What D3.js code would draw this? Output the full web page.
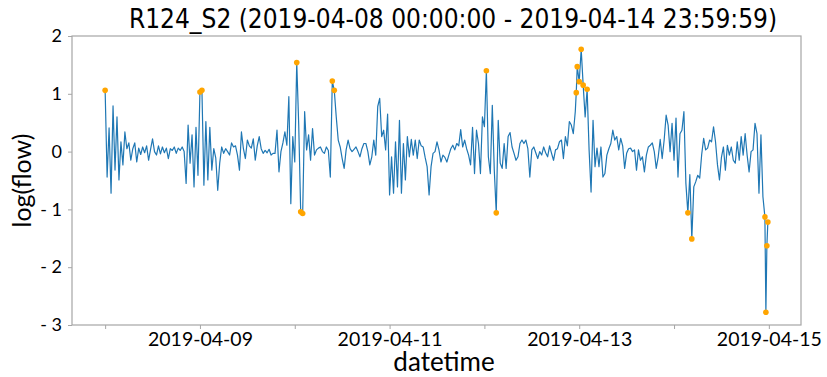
<!DOCTYPE html>
<html>
<head>
<meta charset="utf-8">
<script src="https://cdn.jsdelivr.net/npm/d3@7"></script>
<style>
  body { margin: 0; background: #fff; }
  svg { display: block; }
</style>
</head>
<body>
<div id="chart"></div>
<script>

// chart values (30 minute steps, one array per day)
const title = "R124_S2 (2019-04-08 00:00:00 - 2019-04-14 23:59:59)"
const startTime = "2019-04-08 00:00"
const stepMinutes = 30

const day1 = [1.06, -0.44, 0.41, -0.72, 0.79, -0.32, 0.60, -0.49, 0.17, -0.23,
  0.34, 0.05, 0.15, -0.15, 0.05, 0.15, -0.18, 0.06, -0.05, 0.08,
  -0.02, 0.10, -0.15, 0.04, 0.22, 0.00, -0.06, 0.10, -0.04, 0.08,
  -0.02, 0.06, -0.12, 0.05, 0.02, 0.08, -0.03, 0.06, 0.02, 0.08,
  0.00, -0.55, 0.46, -0.20, 0.29, -0.61, 0.42, -0.41]
const day2 = [1.03, 1.06, -0.58, 0.52, -0.49, 0.42, -0.32, 0.05, -0.11, -0.67,
  -0.20, 0.08, -0.03, 0.05, 0.00, -0.06, 0.15, 0.08, 0.10, -0.06,
  -0.32, 0.34, 0.05, -0.12, 0.20, 0.10, 0.06, 0.22, -0.15, 0.10,
  0.26, 0.05, -0.03, 0.02, -0.02, 0.04, -0.06, -0.03, -0.03, 0.37,
  -0.35, 0.00, 0.15, 0.34, 0.11, 0.95, -0.90, 0.26]
const day3 = [-0.18, 1.54, 0.46, -1.04, -1.07, 0.69, 0.03, 0.29, -0.15, 0.40,
  -0.06, 0.03, 0.06, 0.08, 0.00, -0.03, 0.08, 0.02, -0.44, 1.22,
  1.06, 0.60, 0.20, 0.08, -0.12, -0.29, 0.03, 0.20, 0.05, 0.00,
  0.04, 0.08, 0.00, -0.09, 0.05, 0.14, 0.14, 0.00, -0.23, -0.09,
  0.20, -0.06, 0.78, 0.92, 0.26, 0.37, 0.03, 0.65]
const day4 = [-0.75, -0.09, -0.72, 0.17, -0.61, 0.54, -0.72, 0.14, -0.49, 0.26,
  -0.09, 0.21, -0.06, 0.20, -0.12, 0.20, 0.10, 0.08, -0.10, -0.26,
  -0.75, -0.26, -0.03, 0.00, 0.17, 0.03, -0.18, -0.06, -0.10, -0.18,
  -0.06, 0.05, 0.11, 0.03, 0.14, 0.10, 0.38, 0.08, 0.20, 0.05,
  -0.06, -0.23, 0.42, -0.38, 0.37, 0.14, -0.38, 0.60]
const day5 = [0.43, 1.40, -0.09, -0.38, 0.80, -0.32, -1.06, 0.54, -0.20, -0.29,
  0.14, -0.29, 0.26, 0.33, 0.08, -0.03, -0.15, -0.09, 0.14, 0.20,
  0.14, 0.20, 0.05, -0.44, 0.03, 0.08, -0.02, -0.12, 0.00, -0.06,
  0.08, -0.02, -0.09, 0.10, -0.03, -0.15, 0.03, 0.05, 0.17, 0.20,
  -0.12, 0.26, 0.10, 0.52, 0.46, 0.31, 0.69, 1.47]
const day6 = [1.21, 1.77, 1.15, 0.60, 1.08, 0.03, -0.70, 0.54, -0.26, 0.06,
  -0.26, 0.08, -0.44, -0.38, -0.06, 0.05, 0.14, 0.37, 0.20, 0.26,
  0.03, 0.23, 0.10, -0.29, -0.03, 0.05, 0.06, 0.00, 0.03, -0.32,
  0.03, -0.15, -0.09, -0.35, -0.06, 0.08, 0.11, 0.15, 0.00, -0.29,
  -0.09, 0.21, -0.12, 0.20, 0.63, 0.46, 0.00, 0.49]
const day7 = [-0.15, 0.58, -0.44, 0.31, 0.37, 0.69, -0.55, -1.06, -0.40, -1.51,
  -0.61, -0.52, -0.41, -0.46, -0.05, 0.23, 0.03, 0.06, 0.20, 0.17,
  0.43, 0.17, -0.23, -0.49, -0.10, 0.08, -0.32, 0.11, -0.06, 0.08,
  -0.15, -0.20, 0.17, -0.15, 0.26, -0.06, 0.31, -0.06, -0.35, 0.00,
  0.03, 0.49, 0.31, -0.72, 0.29, -0.78, -1.13, -1.63]

// flagged points (orange); some fall between the 30 minute steps
const anomalies = [
  ["2019-04-08 00:00", 1.06],
  ["2019-04-09 00:00", 1.03],
  ["2019-04-09 00:30", 1.06],
  ["2019-04-10 00:30", 1.54],
  ["2019-04-10 01:30", -1.04],
  ["2019-04-10 02:00", -1.07],
  ["2019-04-10 09:30", 1.22],
  ["2019-04-10 10:00", 1.06],
  ["2019-04-12 00:30", 1.40],
  ["2019-04-12 03:00", -1.06],
  ["2019-04-12 23:15", 1.02],
  ["2019-04-12 23:30", 1.47],
  ["2019-04-13 00:00", 1.21],
  ["2019-04-13 00:30", 1.77],
  ["2019-04-13 01:00", 1.15],
  ["2019-04-13 02:00", 1.08],
  ["2019-04-14 03:30", -1.06],
  ["2019-04-14 04:30", -1.51],
  ["2019-04-14 23:00", -1.13],
  ["2019-04-14 23:15", -2.78],
  ["2019-04-14 23:30", -1.63],
  ["2019-04-14 23:45", -1.22]
]

const yTicks = [2, 1, 0, -1, -2, -3]
const xTickDays = ["2019-04-08", "2019-04-09", "2019-04-10", "2019-04-11",
  "2019-04-12", "2019-04-13", "2019-04-14", "2019-04-15"]
const xLabelDays = ["2019-04-09", "2019-04-11", "2019-04-13", "2019-04-15"]

const parseTime = d3.timeParse("%Y-%m-%d %H:%M")
const parseDay = d3.timeParse("%Y-%m-%d")
const fmtDay = d3.timeFormat("%Y-%m-%d")

// build the series: regular steps, then the flagged points merged in by time
const t0 = parseTime(startTime)
const byTime = new Map()
;[day1, day2, day3, day4, day5, day6, day7].flat().forEach((v, i) => {
  const t = d3.timeMinute.offset(t0, i * stepMinutes)
  byTime.set(+t, { time: t, value: v })
})
const flagged = anomalies.map(([s, v]) => ({ time: parseTime(s), value: v }))
flagged.forEach(d => byTime.set(+d.time, d))
const series = Array.from(byTime.values()).sort((a, b) => a.time - b.time)

const width = 827
const height = 377
const margin = ({ top: 36, right: 26, bottom: 52, left: 72 })

const [tMin, tMax] = d3.extent(series, d => d.time)
const pad = (tMax - tMin) * 0.05

const x = d3.scaleTime()
  .domain([new Date(+tMin - pad), new Date(+tMax + pad)])
  .range([margin.left, width - margin.right])

const y = d3.scaleLinear()
  .domain([-3, 2])
  .range([height - margin.bottom, margin.top])

const svg = d3.select("#chart")
  .append("svg")
  .attr("width", width)
  .attr("height", height)
  .attr("viewBox", [0, 0, width, height])

const frameColor = "#a6a6a6"
const labelFont = "Lato, 'Open Sans', sans-serif"

// frame
svg.append("rect")
  .attr("x", margin.left)
  .attr("y", margin.top)
  .attr("width", width - margin.left - margin.right)
  .attr("height", height - margin.top - margin.bottom)
  .attr("fill", "none")
  .attr("stroke", frameColor)
  .attr("stroke-width", 1.2)

// x axis
svg.append("g")
  .attr("transform", `translate(0,${height - margin.bottom})`)
  .call(d3.axisBottom(x)
    .tickValues(xTickDays.map(parseDay))
    .tickSize(4)
    .tickPadding(3)
    .tickFormat(d => xLabelDays.includes(fmtDay(d)) ? fmtDay(d) : ""))
  .call(g => g.select(".domain").remove())
  .call(g => g.selectAll("line").attr("stroke", frameColor))
  .call(g => g.selectAll("text")
    .attr("fill", "#000")
    .attr("font-family", labelFont)
    .attr("font-size", 19.5))

// y axis
svg.append("g")
  .attr("transform", `translate(${margin.left},0)`)
  .call(d3.axisLeft(y)
    .tickValues(yTicks)
    .tickSize(4)
    .tickPadding(6)
    .tickFormat(d => d < 0 ? "- " + Math.abs(d) : String(d)))
  .call(g => g.select(".domain").remove())
  .call(g => g.selectAll("line").attr("stroke", frameColor))
  .call(g => g.selectAll("text")
    .attr("fill", "#000")
    .attr("font-family", labelFont)
    .attr("font-size", 18))

// the series
const line = d3.line()
  .x(d => x(d.time))
  .y(d => y(d.value))

svg.append("path")
  .datum(series)
  .attr("fill", "none")
  .attr("stroke", "#1f77b4")
  .attr("stroke-width", 1.2)
  .attr("stroke-linejoin", "round")
  .attr("d", line)

svg.append("g")
  .selectAll("circle")
  .data(flagged)
  .join("circle")
  .attr("cx", d => x(d.time))
  .attr("cy", d => y(d.value))
  .attr("r", 2.8)
  .attr("fill", "#ffa500")

// labels
svg.append("text")
  .attr("x", 453)
  .attr("y", 28)
  .attr("text-anchor", "middle")
  .attr("font-family", "'DejaVu Sans Condensed', 'DejaVu Sans', sans-serif")
  .attr("font-stretch", "condensed")
  .attr("font-size", 26)
  .text(title)

svg.append("text")
  .attr("x", 444)
  .attr("y", 371)
  .attr("text-anchor", "middle")
  .attr("font-family", labelFont)
  .attr("font-size", 26)
  .text("datetime")

svg.append("text")
  .attr("transform", `translate(31,${(margin.top + height - margin.bottom) / 2}) rotate(-90)`)
  .attr("text-anchor", "middle")
  .attr("font-family", labelFont)
  .attr("font-size", 25)
  .text("log(flow)")

</script>
</body>
</html>
